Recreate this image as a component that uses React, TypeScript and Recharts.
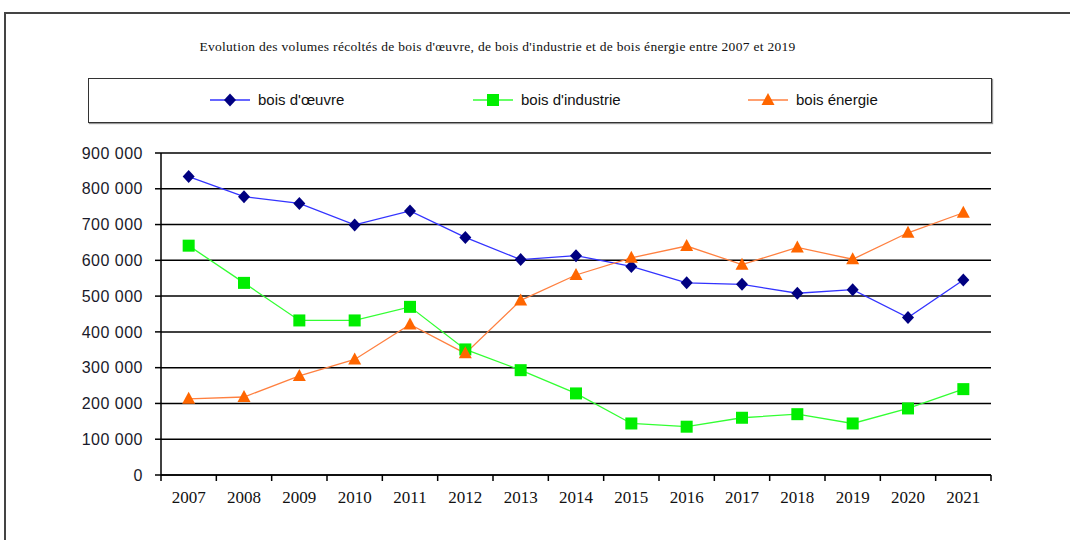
import React from "react";
import { LineChart, Line, XAxis, YAxis, CartesianGrid, Legend } from "recharts";

const years = ["2007", "2008", "2009", "2010", "2011", "2012", "2013", "2014", "2015", "2016", "2017", "2018", "2019", "2020", "2021"];
const boisOeuvre = [834000, 778000, 759000, 699000, 738000, 664000, 602000, 613000, 583000, 537000, 533000, 508000, 518000, 440000, 545000];
const boisIndustrie = [641000, 537000, 432000, 432000, 470000, 351000, 293000, 228000, 144000, 135000, 160000, 170000, 144000, 186000, 240000];
const boisEnergie = [213000, 218000, 277000, 323000, 421000, 340000, 488000, 559000, 607000, 640000, 588000, 636000, 603000, 677000, 733000];
const yTicks = [0, 100000, 200000, 300000, 400000, 500000, 600000, 700000, 800000, 900000];

const data = years.map((year, i) => ({
  year,
  oeuvre: boisOeuvre[i],
  industrie: boisIndustrie[i],
  energie: boisEnergie[i],
}));

const fmt = (v: number) => String(v).replace(/\B(?=(\d{3})+(?!\d))/g, " ");

const Diamond = ({ cx, cy, fill }: any) => (
  <path d={`M${cx},${cy - 6.5} L${cx + 6},${cy} L${cx},${cy + 6.5} L${cx - 6},${cy} Z`} fill={fill} />
);
const Square = ({ cx, cy, fill }: any) => <rect x={cx - 6} y={cy - 6} width={12} height={12} fill={fill} />;
const Triangle = ({ cx, cy, fill }: any) => (
  <path d={`M${cx},${cy - 7} L${cx + 6.5},${cy + 5} L${cx - 6.5},${cy + 5} Z`} fill={fill} />
);

const series = [
  { key: "oeuvre", name: "bois d'œuvre", line: "#3333ff", marker: "#000080", Shape: Diamond, left: 119 },
  { key: "industrie", name: "bois d'industrie", line: "#33ff33", marker: "#00ee00", Shape: Square, left: 382 },
  { key: "energie", name: "bois énergie", line: "#ff8040", marker: "#ff6600", Shape: Triangle, left: 657 },
];

const YearTick = (props: any) => {
  const { x, y, payload, index } = props;
  const half = payload.offset || 0;
  return (
    <g>
      <line x1={x - half} y1={y - 8} x2={x - half} y2={y - 2} stroke="#000" strokeWidth={1.5} />
      {index === years.length - 1 && (
        <line x1={x + half} y1={y - 8} x2={x + half} y2={y - 2} stroke="#000" strokeWidth={1.5} />
      )}
      <text x={x} y={y + 20} textAnchor="middle" fontFamily="'Liberation Serif', serif" fontSize={17} fill="#111">
        {payload.value}
      </text>
    </g>
  );
};

const LegendBox = () => (
  <div style={{ position: "relative", width: "100%", height: "100%" }}>
    {series.map((s) => (
      <div key={s.key} style={{ position: "absolute", left: s.left, top: 12, display: "flex", alignItems: "center" }}>
        <svg width={44} height={16}>
          <line x1={2} y1={8} x2={42} y2={8} stroke={s.line} strokeWidth={1.5} />
          <s.Shape cx={22} cy={8} fill={s.marker} />
        </svg>
        <span style={{ fontFamily: "'Liberation Sans', Arial, sans-serif", fontSize: 15, color: "#111", marginLeft: 6 }}>
          {s.name}
        </span>
      </div>
    ))}
  </div>
);

export default function App() {
  return (
    <div style={{ position: "absolute", left: 0, top: 0, width: 1070, height: 540, background: "#fff", overflow: "hidden" }}>
      <div
        style={{
          position: "absolute",
          left: 4,
          top: 12,
          width: 1100,
          height: 600,
          borderLeft: "2px solid #444",
          borderTop: "2px solid #444",
        }}
      />
      <div
        style={{
          position: "absolute",
          left: 0,
          width: 995,
          top: 39,
          textAlign: "center",
          fontFamily: "'Liberation Serif', serif",
          fontSize: 13.5,
          color: "#111",
          letterSpacing: 0.3,
        }}
      >
        Evolution des volumes récoltés de bois d'œuvre, de bois d'industrie et de bois énergie entre 2007 et 2019
      </div>
      <LineChart width={1070} height={540} data={data} margin={{ top: 153, right: 79, left: 0, bottom: 0 }}>
        <CartesianGrid vertical={false} stroke="#000" strokeWidth={1.5} />
        <XAxis
          dataKey="year"
          scale="band"
          axisLine={{ stroke: "#000", strokeWidth: 1.5 }}
          tickLine={false}
          tick={<YearTick />}
          interval={0}
          height={65}
        />
        <YAxis
          domain={[0, 900000]}
          ticks={yTicks}
          tickFormatter={fmt}
          width={161}
          axisLine={{ stroke: "#000", strokeWidth: 1.5 }}
          tickLine={{ stroke: "#000", strokeWidth: 1.5 }}
          tickSize={6}
          tickMargin={12}
          tick={{ fill: "#1a1a2a", fontSize: 16, letterSpacing: 0.5, fontFamily: "'Liberation Sans', Arial, sans-serif" }}
        />
        <Legend
          layout="horizontal"
          verticalAlign="middle"
          align="center"
          content={<LegendBox />}
          wrapperStyle={{
            position: "absolute",
            top: 78,
            left: 88,
            width: 904,
            height: 45,
            border: "1.5px solid #333",
            boxShadow: "1px 1px 1px #999",
            boxSizing: "border-box",
          }}
        />
        {series.map((s) => (
          <Line
            key={s.key}
            dataKey={s.key}
            name={s.name}
            stroke={s.line}
            strokeWidth={1.3}
            isAnimationActive={false}
            dot={(p: any) => <s.Shape key={`${s.key}-${p.index}`} cx={p.cx} cy={p.cy} fill={s.marker} />}
            activeDot={false}
          />
        ))}
      </LineChart>
    </div>
  );
}
